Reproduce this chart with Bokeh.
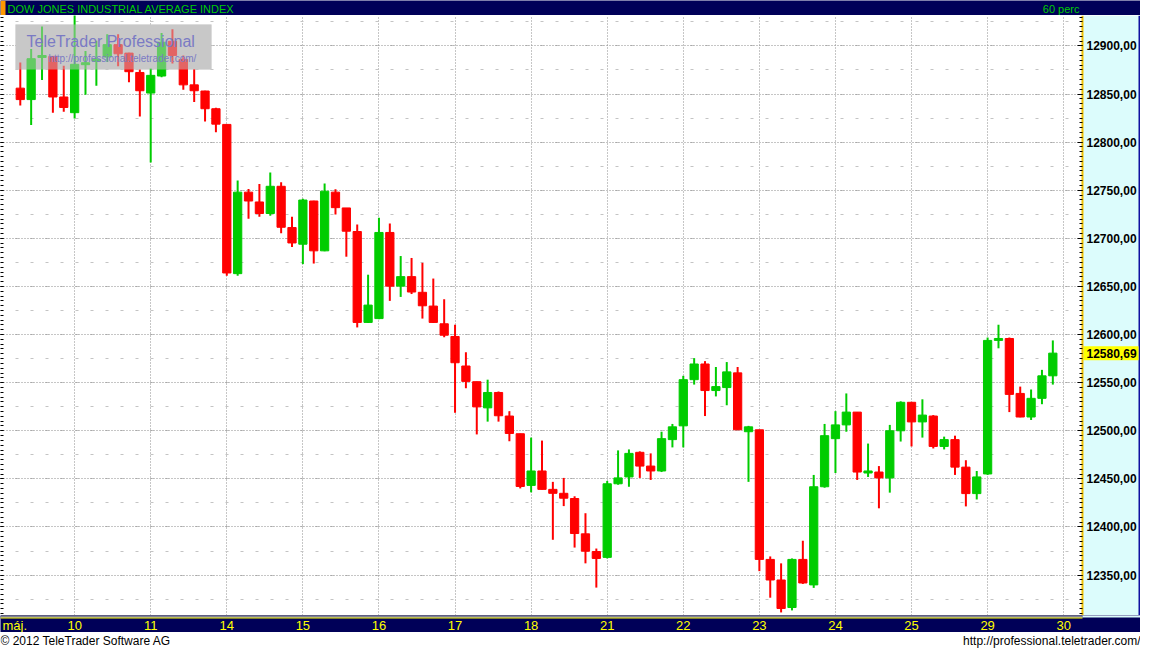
from bokeh.plotting import figure
from bokeh.models import (Range1d, ColumnDataSource, LinearAxis, SingleIntervalTicker,
                          FixedTicker, CustomJSTickFormatter, Label, BoxAnnotation)
from bokeh.layouts import column
from bokeh.core.properties import value
from bokeh.embed import file_html
from bokeh.resources import INLINE

# ---------------- data ----------------
title_text = "DOW JONES INDUSTRIAL AVERAGE INDEX"
interval_text = "60 perc"
month_label = "máj."
day_labels = ["10", "11", "14", "15", "16", "17", "18", "21", "22", "23", "24", "25", "29", "30"]
day_start = [5, 12, 19, 26, 33, 40, 47, 54, 61, 68, 75, 82, 89, 96]
y_ticks = [12350, 12400, 12450, 12500, 12550, 12600, 12650, 12700, 12750, 12800, 12850, 12900]
y_tick_labels = ["12350,00", "12400,00", "12450,00", "12500,00", "12550,00", "12600,00",
                 "12650,00", "12700,00", "12750,00", "12800,00", "12850,00", "12900,00"]
last_price = 12580.69
last_price_label = "12580,69"
footer_left = "© 2012 TeleTrader Software AG"
footer_right = "http://professional.teletrader.com/"
wm_title = "TeleTrader Professional"
wm_url = "http://professional.teletrader.com/"

opens = [12856.1, 12844.2, 12888.0, 12889.1, 12846.9, 12830.6, 12880.5, 12884.0, 12888.5, 12901.3,
         12892.5, 12872.4, 12851.0, 12868.7, 12904.8, 12886.0, 12859.5, 12853.1, 12834.7, 12818.4,
         12663.3, 12748.0, 12737.8, 12725.8, 12754.1, 12711.2, 12693.9, 12738.8, 12687.0, 12748.0,
         12731.6, 12707.1, 12612.6, 12616.6, 12706.1, 12650.3, 12660.2, 12643.9, 12629.6, 12611.2,
         12598.0, 12567.3, 12551.0, 12523.8, 12539.8, 12515.3, 12496.9, 12443.2, 12458.2, 12439.1,
         12435.0, 12429.6, 12392.9, 12374.5, 12368.4, 12444.9, 12452.0, 12477.6, 12463.3, 12458.2,
         12490.8, 12505.1, 12553.1, 12569.4, 12541.8, 12544.9, 12560.2, 12499.0, 12501.0, 12366.3,
         12344.9, 12316.3, 12366.3, 12339.8, 12441.8, 12491.8, 12506.1, 12519.4, 12456.1, 12457.1,
         12451.0, 12500.0, 12529.6, 12509.2, 12515.3, 12483.7, 12490.8, 12462.2, 12434.7, 12455.1,
         12593.9, 12595.9, 12538.8, 12514.3, 12533.7, 12557.1]
highs = [12882.7, 12896.9, 12920.1, 12889.5, 12879.3, 12935.0, 12894.6, 12905.4, 12912.2, 12912.2,
         12893.0, 12875.5, 12876.5, 12913.3, 12917.3, 12890.1, 12875.8, 12853.5, 12835.7, 12818.4,
         12760.2, 12751.3, 12756.4, 12768.4, 12758.2, 12722.4, 12741.1, 12739.0, 12757.1, 12751.0,
         12731.6, 12714.3, 12662.2, 12721.4, 12715.3, 12681.6, 12679.6, 12674.5, 12658.2, 12636.7,
         12610.2, 12581.6, 12551.0, 12553.1, 12540.8, 12520.4, 12497.0, 12492.9, 12489.8, 12446.9,
         12451.0, 12431.9, 12414.3, 12377.6, 12447.9, 12479.6, 12480.6, 12478.6, 12476.5, 12499.0,
         12507.1, 12557.1, 12575.5, 12572.4, 12566.3, 12571.4, 12566.3, 12505.1, 12501.0, 12369.4,
         12362.2, 12367.3, 12385.7, 12454.1, 12507.1, 12520.4, 12538.8, 12519.5, 12486.7, 12463.3,
         12506.1, 12530.6, 12530.0, 12532.7, 12516.3, 12493.9, 12494.9, 12469.4, 12458.2, 12596.9,
         12610.2, 12596.9, 12545.9, 12542.9, 12563.3, 12593.9]
lows = [12838.1, 12817.7, 12864.6, 12830.6, 12831.6, 12824.5, 12849.3, 12858.5, 12883.4, 12878.9,
        12862.2, 12826.5, 12778.9, 12867.3, 12881.6, 12854.4, 12841.8, 12821.4, 12810.2, 12661.2,
        12661.2, 12720.4, 12722.4, 12723.5, 12705.4, 12691.1, 12673.2, 12673.8, 12686.5, 12724.8,
        12680.9, 12607.4, 12612.0, 12616.0, 12635.0, 12639.1, 12642.1, 12616.6, 12612.0, 12597.2,
        12518.7, 12544.2, 12496.2, 12509.5, 12509.5, 12489.1, 12440.1, 12436.0, 12439.0, 12386.7,
        12421.7, 12378.6, 12362.2, 12337.0, 12367.3, 12443.9, 12441.8, 12451.0, 12448.9, 12457.1,
        12482.7, 12482.7, 12548.0, 12515.3, 12535.7, 12526.5, 12501.0, 12446.9, 12354.1, 12326.5,
        12311.2, 12313.3, 12340.8, 12336.7, 12440.8, 12456.1, 12499.0, 12448.9, 12452.0, 12419.4,
        12435.7, 12488.8, 12483.7, 12492.9, 12481.6, 12480.6, 12454.1, 12421.4, 12428.6, 12454.1,
        12585.7, 12519.4, 12514.0, 12511.2, 12527.6, 12548.0]
closes = [12844.2, 12886.7, 12890.0, 12846.9, 12836.0, 12880.9, 12882.5, 12886.0, 12901.3, 12891.8,
          12873.2, 12853.4, 12869.4, 12903.8, 12890.1, 12859.5, 12853.4, 12834.7, 12818.7, 12664.0,
          12748.0, 12738.8, 12725.8, 12754.1, 12711.5, 12695.2, 12739.8, 12687.0, 12749.0, 12731.9,
          12707.4, 12612.6, 12630.6, 12706.1, 12650.3, 12660.2, 12644.2, 12629.9, 12612.6, 12599.3,
          12570.7, 12551.3, 12524.8, 12539.8, 12515.6, 12497.2, 12442.1, 12458.2, 12439.1, 12435.0,
          12429.9, 12393.2, 12374.8, 12367.3, 12444.9, 12451.0, 12476.5, 12463.3, 12458.2, 12491.8,
          12504.1, 12553.1, 12569.4, 12541.8, 12545.9, 12561.2, 12501.0, 12504.1, 12366.3, 12344.9,
          12315.3, 12366.3, 12341.8, 12441.8, 12494.9, 12506.1, 12519.4, 12457.1, 12458.2, 12451.0,
          12500.0, 12529.6, 12509.2, 12516.3, 12483.7, 12490.8, 12462.2, 12434.7, 12452.0, 12593.9,
          12595.9, 12537.8, 12514.3, 12533.7, 12557.1, 12580.69]

# ---------------- styling / layout constants ----------------
FONT = "Liberation Sans"
NAVY = "#000058"
CYAN = "#dcfcfc"
YELLOW_LINE = "#f0c000"
UP = "#00cc00"
DOWN = "#ff0000"
W = 1140
RIGHT_W = 58
FRAME_W = W - RIGHT_W              # width of candle area
X0, X_EDGE = -1.82, 97.73          # candle area x extent (in bar index units)
X_END = X0 + (X_EDGE - X0) * W / FRAME_W

idx = list(range(len(opens)))
colors = [UP if c >= o else DOWN for o, c in zip(opens, closes)]
src = ColumnDataSource(dict(
    x=idx,
    top=[max(o, c) for o, c in zip(opens, closes)],
    bottom=[min(o, c) for o, c in zip(opens, closes)],
    high=highs, low=lows, color=colors))


def strip(height, bg, x_range):
    fig = figure(width=W, height=height, x_range=x_range, y_range=Range1d(0, height),
                 toolbar_location=None, output_backend="svg",
                 x_axis_location=None, y_axis_location=None,
                 min_border=0, background_fill_color=bg, border_fill_color=bg,
                 outline_line_color=None)
    fig.grid.visible = False
    return fig


# ---------------- header ----------------
h = strip(15, NAVY, Range1d(0, W))
h.add_layout(BoxAnnotation(left=0, right=5, bottom=0, top=15, fill_color="#ff9900",
                           fill_alpha=1, line_color=None))
h.add_layout(Label(x=7, y=7, text=title_text, text_color="#00cc00", text_font=FONT,
                   text_font_size="11px", text_baseline="middle"))
h.add_layout(Label(x=FRAME_W - 3, y=7, text=interval_text, text_color="#00cc00",
                   text_font=FONT, text_font_size="11px", text_baseline="middle",
                   text_align="right"))

# ---------------- main chart ----------------
p = figure(width=W, height=600, x_range=Range1d(X0, X_END), y_range=Range1d(12308, 12931.6),
           toolbar_location=None, output_backend="svg",
           x_axis_location=None, y_axis_location=None,
           min_border=0, background_fill_color="white", border_fill_color=CYAN,
           outline_line_color=None)
p.extra_x_ranges = {"px": Range1d(0, W)}

p.xgrid.ticker = FixedTicker(ticks=day_start)
p.xgrid.grid_line_color = "#8c8c8c"
p.xgrid.grid_line_dash = "1 2"
p.ygrid.ticker = SingleIntervalTicker(interval=50, num_minor_ticks=2)
p.ygrid.grid_line_color = "#8c8c8c"
p.ygrid.grid_line_dash = "1 2"
p.ygrid.minor_grid_line_color = "#c4c4c4"
p.ygrid.minor_grid_line_dash = "3 12"

# price-scale panel background (inside the frame, right of the candle area)
p.add_layout(BoxAnnotation(left=X_EDGE, fill_color=CYAN, fill_alpha=1, line_color=None,
                           level="underlay"))
p.add_layout(BoxAnnotation(left=W - 2, left_units="screen", fill_color="#1010a0",
                           fill_alpha=1, line_color=None, level="underlay"))

# watermark underlay
p.add_layout(BoxAnnotation(left=15, right=211, top=591, bottom=546,
                           left_units="screen", right_units="screen",
                           top_units="screen", bottom_units="screen",
                           fill_color="#c8c8c8", fill_alpha=1, line_color=None, level="underlay"))

p.segment(x0="x", y0="low", x1="x", y1="high", line_color="color", line_width=2, source=src)
p.vbar(x="x", width=0.76, top="top", bottom="bottom", fill_color="color",
       line_color="color", line_width=1, source=src)

# watermark overlay
p.add_layout(BoxAnnotation(left=15, right=211, top=591, bottom=546,
                           left_units="screen", right_units="screen",
                           top_units="screen", bottom_units="screen",
                           fill_color="#c8c8c8", fill_alpha=0.5, line_color=None))
p.add_layout(Label(x=26, y=574, x_units="screen", y_units="screen", text=wm_title,
                   text_color="#7a7ac4", text_font=FONT, text_font_size="16px",
                   text_baseline="middle"))
p.add_layout(Label(x=48, y=557, x_units="screen", y_units="screen", text=wm_url,
                   text_color="#7a7ac4", text_font=FONT, text_font_size="10px",
                   text_baseline="middle"))

# price scale: axis line + ticks at the edge of the candle area
raxis = LinearAxis(fixed_location=X_EDGE,
                   ticker=SingleIntervalTicker(interval=50, num_minor_ticks=10),
                   formatter=CustomJSTickFormatter(code="return '';"),
                   axis_line_color=YELLOW_LINE, axis_line_width=2,
                   major_tick_in=5, major_tick_out=0, minor_tick_in=3, minor_tick_out=0,
                   major_tick_line_color="black", minor_tick_line_color="black",
                   major_label_standoff=0)
p.add_layout(raxis, "right")

laxis = LinearAxis(ticker=SingleIntervalTicker(interval=50, num_minor_ticks=10),
                   formatter=CustomJSTickFormatter(code="return '';"),
                   axis_line_color=None, major_tick_in=3, major_tick_out=0,
                   minor_tick_in=3, minor_tick_out=0,
                   major_tick_line_color="black", minor_tick_line_color="black",
                   major_label_standoff=0)
p.add_layout(laxis, "left")

# price scale labels
p.text(x=[FRAME_W + 4] * len(y_ticks), y=y_ticks, text=y_tick_labels, x_range_name="px",
       text_font=value(FONT), text_font_style="bold", text_font_size="12px",
       text_color="black", text_baseline="middle", text_align="left")

# last price marker
p.rect(x=[FRAME_W + 1 + (RIGHT_W - 3) / 2], y=[last_price], width=RIGHT_W - 3, height=14,
       width_units="screen", height_units="screen", x_range_name="px",
       fill_color="#ffff00", line_color=None)
p.text(x=[FRAME_W + 4], y=[last_price], text=[last_price_label], x_range_name="px",
       text_font=value(FONT), text_font_style="bold", text_font_size="12px",
       text_color="black", text_baseline="middle", text_align="left")

# ---------------- x bar ----------------
xb = strip(17, NAVY, p.x_range)
xb.add_layout(BoxAnnotation(right=X_EDGE, bottom=16, top=17, fill_color="black",
                            fill_alpha=1, line_color=None))
xb.add_layout(BoxAnnotation(right=X_EDGE, bottom=15, top=16, fill_color="white",
                            fill_alpha=1, line_color=None))
xb.add_layout(BoxAnnotation(right=X_EDGE, bottom=14, top=15, fill_color="#ffff00",
                            fill_alpha=1, line_color=None))
xb.add_layout(BoxAnnotation(left=X_EDGE, bottom=15, top=17, fill_color=CYAN,
                            fill_alpha=1, line_color=None))
xb.text(x=day_start, y=[7] * len(day_start), text=day_labels, text_color="#ffff00",
        text_font=value(FONT), text_font_size="13px", text_align="center",
        text_baseline="middle")
xb.add_layout(Label(x=2, y=7, x_units="screen", text=month_label, text_color="#ffff00",
                    text_font=FONT, text_font_size="13px", text_baseline="middle"))

# ---------------- footer ----------------
f = strip(16, "white", Range1d(0, W))
f.add_layout(Label(x=0, y=8, text=footer_left, text_color="black", text_font=FONT,
                   text_font_size="12px", text_baseline="middle"))
f.add_layout(Label(x=W, y=8, text=footer_right, text_color="black",
                   text_font=FONT, text_font_size="12px", text_baseline="middle",
                   text_align="right"))

layout = column(h, p, xb, f, spacing=0)
open("out.html", "w", encoding="utf-8").write(file_html(layout, INLINE))
